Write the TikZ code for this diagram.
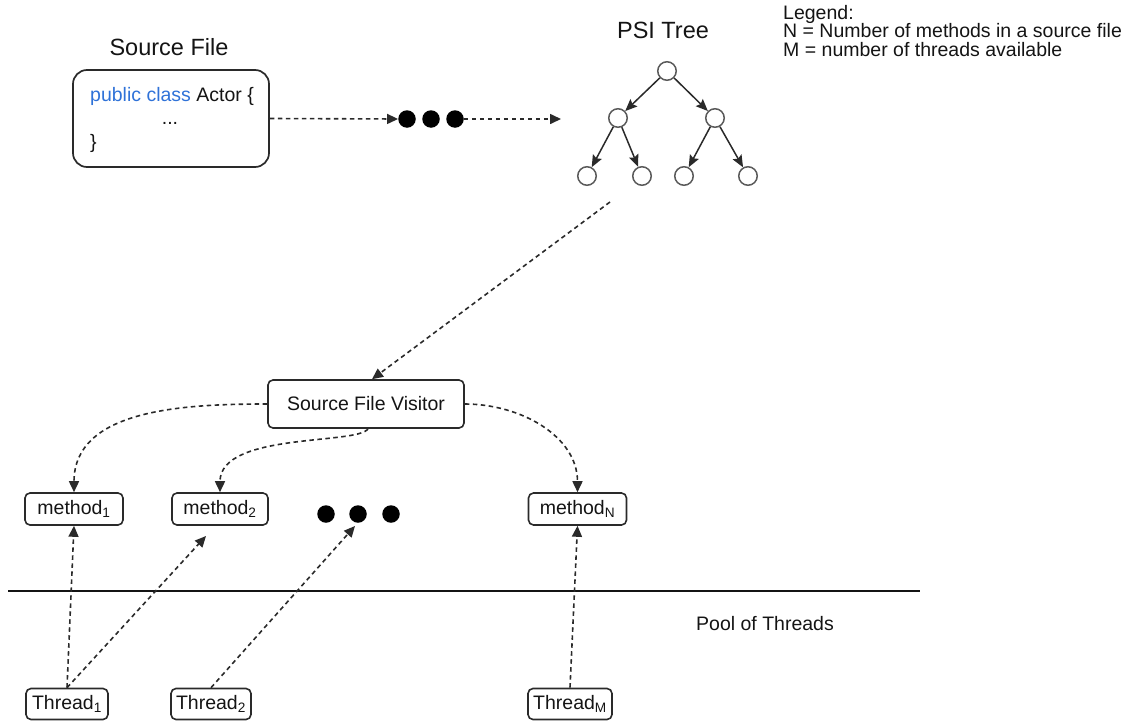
\documentclass[tikz,border=0pt]{standalone}
\usepackage{fontspec}
\setmainfont{Liberation Sans}
\usetikzlibrary{arrows.meta}
\definecolor{ink}{HTML}{141414}
\definecolor{edge}{HTML}{2A2A2A}
\definecolor{ring}{HTML}{5A5A5A}
\definecolor{codeblue}{HTML}{2F72D8}

\begin{document}
\begin{tikzpicture}[x=1pt,y=-1pt,
  txt/.style={font=\fontsize{19.5}{22}\selectfont, text=ink, inner sep=0pt},
  title/.style={font=\fontsize{23.5}{26}\selectfont, text=ink, inner sep=0pt},
  bigbox/.style={draw=edge, line width=1.7pt, rounded corners=14pt,
    minimum width=196pt, minimum height=97pt, inner sep=0pt},
  smallbox/.style={txt, draw=edge, line width=1.6pt, rounded corners=5pt},
  treenode/.style={circle, draw=ring, line width=1.5pt, fill=white,
    minimum size=18.5pt, inner sep=0pt},
  blob/.style={circle, fill=black, minimum size=17.5pt, inner sep=0pt},
  flow/.style={draw=edge, line width=1.6pt, dash pattern=on 4.5pt off 3.5pt,
    -{Triangle[length=11pt,width=10pt]}},
  treeedge/.style={draw=edge, line width=1.5pt,
    -{Stealth[length=12pt,width=10pt,inset=2pt]}},
]
\useasboundingbox (0,0) rectangle (1125,723);

% ---- source file ----
\node[title, anchor=base] (srctitle) at (169,55) {Source File};
\node[bigbox] (src) at (171,118.5) {};
\node[txt, anchor=base west] (code1) at (90,101) {\textcolor{codeblue}{public class} Actor \{};
\node[txt, anchor=base] (code2) at (170,124) {...};
\node[txt, anchor=base west] (code3) at (90,148) {\}};

\node[blob] (d1) at (407,119) {};
\node[blob] (d2) at (431,119) {};
\node[blob] (d3) at (455,119) {};
\coordinate (treein) at (561,119);
\draw[flow] (src.east) -- (d1.west);
\draw[flow] (d3.east) -- (treein);

% ---- PSI tree ----
\node[title, anchor=base] (psititle) at (663,38) {PSI Tree};
\node[treenode] (root) at (667,71) {};
\node[treenode] (na) at (618,118) {};
\node[treenode] (nb) at (715,118) {};
\node[treenode] (c1) at (587,176) {};
\node[treenode] (c2) at (642,176) {};
\node[treenode] (c3) at (684,176) {};
\node[treenode] (c4) at (748,176) {};
\draw[treeedge] (root) -- (na);
\draw[treeedge] (root) -- (nb);
\draw[treeedge] (na) -- (c1);
\draw[treeedge] (na) -- (c2);
\draw[treeedge] (nb) -- (c3);
\draw[treeedge] (nb) -- (c4);

% ---- legend ----
\node[txt, anchor=north west, align=left, font=\fontsize{19.5}{18.5}\selectfont]
  (legend) at (783,5) {Legend:\\N = Number of methods in a source file\\M = number of threads available};

% ---- visitor and methods ----
\node[smallbox, minimum width=196pt, minimum height=48pt] (visitor) at (366,404) {Source File Visitor};
\coordinate (treeout) at (610,202);
\draw[flow] (treeout) -- ([xshift=6pt]visitor.north);

\node[smallbox, minimum width=98pt, minimum height=32pt] (m1) at (74,509) {method\textsubscript{1}};
\node[smallbox, minimum width=96pt, minimum height=32pt] (m2) at (220,509) {method\textsubscript{2}};
\node[smallbox, minimum width=98pt, minimum height=32pt] (mN) at (577.5,509) {method\textsubscript{N}};

\node[blob] (e1) at (326,514) {};
\node[blob] (e2) at (358,514) {};
\node[blob] (e3) at (391,514) {};

\draw[flow] (visitor.west) to[out=180,in=90] (m1.north);
\draw[flow] ([xshift=2pt]visitor.south) .. controls (358,445) and (220,432) .. (m2.north);
\draw[flow] (visitor.east) to[out=0,in=90] (mN.north);

% ---- pool of threads ----
\coordinate (poolL) at (8,591);
\coordinate (poolR) at (920,591);
\draw[draw=ink, line width=1.6pt] (poolL) -- (poolR);
\node[txt, anchor=base] (pool) at (765,630) {Pool of Threads};

\node[smallbox, minimum width=82pt, minimum height=31pt] (t1) at (67,704) {Thread\textsubscript{1}};
\node[smallbox, minimum width=80pt, minimum height=31pt] (t2) at (211,704) {Thread\textsubscript{2}};
\node[smallbox, minimum width=84pt, minimum height=31pt] (tM) at (570,704) {Thread\textsubscript{M}};

\coordinate (t1tip) at (206,536);
\coordinate (t2tip) at (355,526);
\draw[flow] (t1.north) -- (m1.south);
\draw[flow] (t1.north) -- (t1tip);
\draw[flow] (t2.north) -- (t2tip);
\draw[flow] (tM.north) -- (mN.south);
\end{tikzpicture}
\end{document}
